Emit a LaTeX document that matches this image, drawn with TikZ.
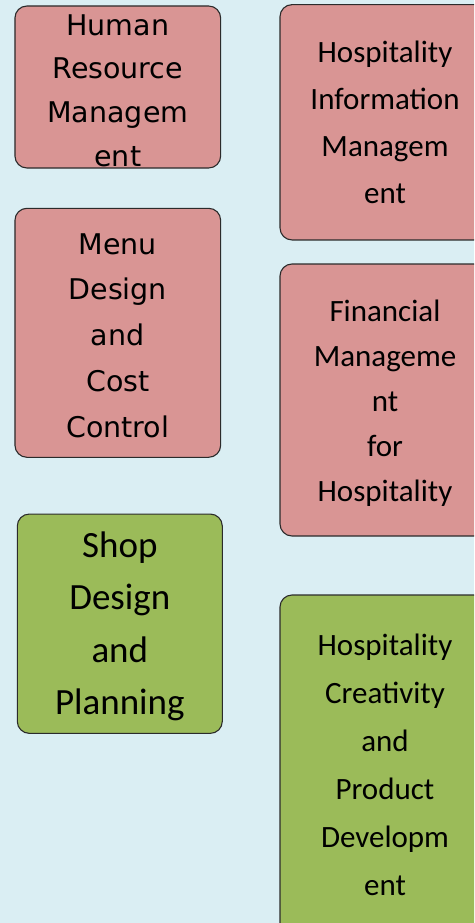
\documentclass[tikz,border=0pt]{standalone}
\usepackage{fontspec}
\setmainfont{Carlito}
\newfontfamily\leftfont{DejaVu Sans}
\newfontfamily\rightfont{Carlito}
\definecolor{bgblue}{HTML}{DAEEF3}
\definecolor{pinkfill}{HTML}{D99594}
\definecolor{greenfill}{HTML}{9BBB59}
\definecolor{edgegray}{HTML}{2B2B2B}
\newcommand{\topstrut}[1]{\rule{0pt}{#1}}
\tikzset{
  card/.style={draw=edgegray, line width=1.1pt, rounded corners=12pt, align=center, inner sep=0pt, text=black},
  pinkcard/.style={card, fill=pinkfill},
  greencard/.style={card, fill=greenfill},
}
\begin{document}
\begin{tikzpicture}[x=1pt,y=-1pt]
\useasboundingbox (0,0) rectangle (474,923);
\fill[bgblue] (0,0) rectangle (474,923);
\clip (0,0) rectangle (474,923);
\node (hrm) [pinkcard, minimum width=205.7pt, minimum height=162pt,
  font=\leftfont\fontsize{28.5}{43.7}\selectfont] at (117.8,87)
  {\topstrut{28pt}Human\\Resource\\Managem\\ent};
\node (menu) [pinkcard, minimum width=205.7pt, minimum height=249pt,
  font=\leftfont\fontsize{28.5}{45.8}\selectfont] at (117.8,332.8)
  {\topstrut{26pt}Menu\\Design\\and\\Cost\\Control};
\node (shop) [greencard, minimum width=205pt, minimum height=219.3pt,
  font=\rightfont\fontsize{37}{52.5}\selectfont] at (119.8,623.7)
  {\topstrut{31pt}Shop\\Design\\and\\Planning};
\node (him) [pinkcard, minimum width=210pt, minimum height=235.3pt,
  font=\rightfont\fontsize{31}{47}\selectfont] at (385,122.3)
  {Hospitality\\Information\\Managem\\ent};
\node (fin) [pinkcard, minimum width=210pt, minimum height=272pt,
  font=\rightfont\fontsize{31}{45}\selectfont] at (385,400)
  {\topstrut{28pt}Financial\\Manageme\\nt\\for\\Hospitality};
\node (crea) [greencard, minimum width=210pt, minimum height=340pt,
  font=\rightfont\fontsize{31}{48}\selectfont] at (385,765)
  {Hospitality\\Creativity\\and\\Product\\Developm\\ent};
\end{tikzpicture}
\end{document}
